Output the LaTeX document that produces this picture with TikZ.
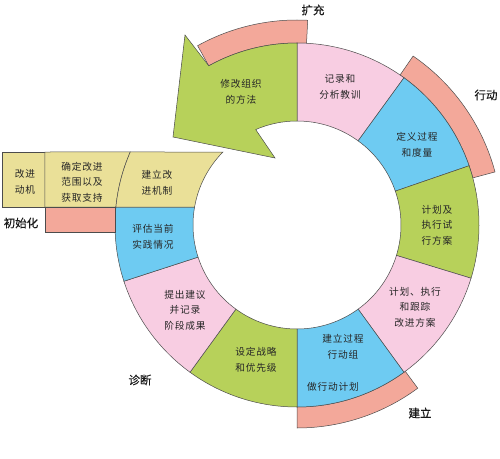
\documentclass[tikz,border=0pt]{standalone}
\usepackage{fontspec}
\newfontfamily\cjk[LetterSpace=8]{Noto Sans CJK SC}
\newfontfamily\cjkb[FakeBold=0.4]{Noto Sans CJK SC}
\definecolor{cgreen}{HTML}{B7D15A}
\definecolor{cpink}{HTML}{F8CDE2}
\definecolor{cblue}{HTML}{6ECBF2}
\definecolor{csalmon}{HTML}{F3A89A}
\definecolor{cyellow}{HTML}{EAE098}
\newcommand\annseg[5]{\path[seg,fill=#1] (#2:#5) arc[start angle=#2,end angle=#3,radius=#5 pt] -- (#3:#4) arc[start angle=#3,end angle=#2,radius=#4 pt] -- cycle;}
\begin{document}
\begin{tikzpicture}[x=1pt,y=1pt,
  seg/.style={draw=black!70,line width=0.5pt},
  lbl/.style={font=\cjk\fontsize{9.7}{15.5}\selectfont,align=center,text=black!85},
  phase/.style={font=\cjkb\fontsize{11.5}{13}\selectfont,text=black!90}]
\useasboundingbox (-297,-233) rectangle (203,225);
% outer phase bands
\annseg{csalmon}{87}{119}{182}{205}
\annseg{csalmon}{15}{55.5}{182}{205}
\annseg{csalmon}{-90}{-53.5}{182}{203}
% ring segments
\annseg{cpink}{54}{90}{104}{182}
\annseg{cblue}{19}{54}{104}{182}
\annseg{cgreen}{-17}{19}{104}{182}
\annseg{cpink}{-54}{-17}{104}{182}
\annseg{cblue}{-90}{-54}{104}{182}
\annseg{cgreen}{-126}{-90}{104}{182}
\annseg{cpink}{198}{234}{104}{182}
\path[seg,fill=cblue] (174.33:182) arc[start angle=174.33,end angle=198,radius=182pt] -- (198:104) arc[start angle=198,end angle=170.04,radius=104pt] -- cycle;
% initialisation boxes
\path[seg,fill=cyellow] (-295,18) rectangle (-252,73);
\path[seg,fill=cyellow] (-252,73) -- (156.35:182) arc[start angle=156.35,end angle=174.33,radius=182pt] -- (-252,18) -- cycle;
\path[seg,fill=cyellow] (156.35:182) arc[start angle=156.35,end angle=174.33,radius=182pt] -- (170.04:104) arc[start angle=170.04,end angle=135.42,radius=104pt] -- cycle;
\path[seg,fill=csalmon] (-252,-7) rectangle (-182,18);
% green arrow
\path[seg,fill=cgreen] (90:182) arc[start angle=90,end angle=119,radius=182pt] -- (-112,190) -- (-124,88) -- (-22,67) -- (113.4:104) arc[start angle=113.4,end angle=90,radius=104pt] -- cycle;
% texts
\node[lbl] (t1) at (-56,133) {修改组织\\的方法};
\node[lbl] (t2) at (43,138) {记录和\\分析教训};
\node[lbl] (t3) at (120,80) {定义过程\\和度量};
\node[lbl] (t4) at (140,0) {计划及\\执行试\\行方案};
\node[lbl] (t5) at (118,-82) {计划、执行\\和跟踪\\改进方案};
\node[lbl] (t6) at (46,-122) {建立过程\\行动组};
\node[lbl] (t7) at (36,-162) {做行动计划};
\node[lbl] (t8) at (-41,-135) {设定战略\\和优先级};
\node[lbl] (t9) at (-112,-85) {提出建议\\并记录\\阶段成果};
\node[lbl] (t10) at (-144,-12) {评估当前\\实践情况};
\node[lbl] (t11) at (-140,42) {建立改\\进机制};
\node[lbl] (t12) at (-215,43) {确定改进\\范围以及\\获取支持};
\node[lbl] (t13) at (-272,43) {改进\\动机};
\node[phase] (p1) at (16,215) {扩充};
\node[phase] (p2) at (189,130) {行动};
\node[phase] (p3) at (123,-188) {建立};
\node[phase] (p4) at (-157,-155) {诊断};
\node[phase] (p5) at (-276,2) {初始化};
\end{tikzpicture}
\end{document}
